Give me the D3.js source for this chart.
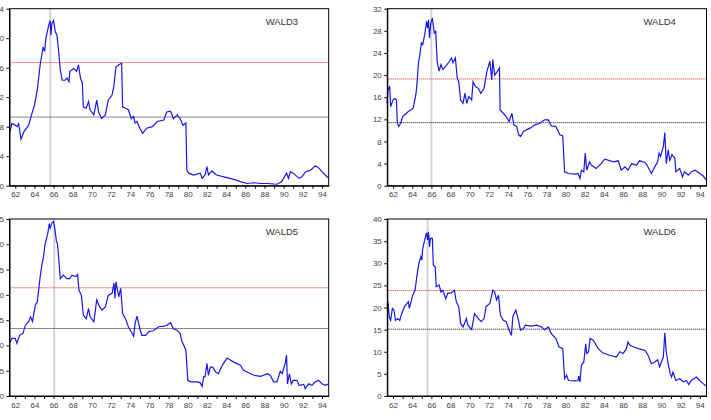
<html>
<script src='https://d3js.org/d3.v7.min.js'></script>
<style>
body {margin:0; background:#fff;}
text {font-family: Arial, 'Liberation Sans', sans-serif;}
</style>
<body onload='init()'>
<svg width=711 height=420></svg>
<script>
// year ticks (labels every 2 years)
var tickYears = d3.range(62, 95);
var labelYears = d3.range(62, 95, 2);

// [year, statistic]
var wald3 = [[61.41,7.1],[61.65,8.45],[62.0,8.2],[62.2,8.0],[62.35,8.4],[62.6,6.3],[62.9,7.3],[63.4,8.2],[63.7,9.6],[64.0,10.9],[64.3,13.0],
 [64.6,16.4],[64.9,18.8],[65.06,18.2],[65.2,20.0],[65.5,21.8],[65.65,22.4],[65.72,20.4],[65.83,22.0],[66.0,22.4],[66.17,20.9],[66.35,20.4],
 [66.5,18.6],[66.7,15.7],[66.9,14.3],[67.2,14.3],[67.4,14.6],[67.6,14.1],[67.7,15.5],[68.1,15.9],[68.4,15.5],[68.6,16.4],[68.8,14.6],[69.0,13.9],
 [69.1,10.7],[69.4,10.5],[69.65,11.4],[69.8,10.3],[70.2,9.6],[70.5,11.6],[70.7,10.0],[71.0,9.1],[71.4,9.6],[71.7,11.6],[72.1,12.3],[72.3,13.6],
 [72.5,16.1],[72.8,16.4],[73.1,16.6],[73.2,10.7],[73.5,10.5],[73.8,10.3],[74.1,9.1],[74.35,9.4],[74.5,8.5],[74.7,8.7],[75.0,7.8],[75.3,7.1],
 [75.7,7.8],[76.3,8.0],[76.8,8.7],[77.5,8.9],[77.8,10.0],[78.2,10.1],[78.5,9.1],[78.9,9.6],[79.2,9.1],[79.5,8.2],[79.8,8.5],[79.9,2.1],
 [80.1,1.7],[80.6,1.45],[81.3,1.7],[81.5,1.0],[81.8,1.45],[82.0,2.6],[82.15,1.45],[82.5,2.0],[83.0,1.45],[84.1,1.1],[84.8,0.86],[85.5,0.55],
 [86.2,0.3],[86.9,0.4],[87.6,0.3],[88.3,0.3],[89.3,0.2],[89.8,0.55],[90.3,1.7],[90.5,1.0],[90.7,1.9],[91.0,1.7],[91.6,1.0],[91.9,1.2],
 [92.3,1.9],[92.8,2.1],[93.3,2.7],[93.7,2.35],[94.0,1.9],[94.35,1.45],[94.7,1.0]];

var wald4 = [[61.37,14.9],[61.47,17.3],[61.65,18.0],[61.75,14.3],[62.0,15.5],[62.17,15.8],[62.35,15.5],[62.45,11.3],[62.6,10.7],[62.8,11.3],
 [63.0,12.5],[63.6,13.4],[64.1,14.0],[64.3,15.8],[64.4,16.7],[64.5,18.5],[64.65,22.2],[64.8,23.7],[64.95,25.8],[65.1,25.5],[65.3,27.3],
 [65.5,29.7],[65.6,28.5],[65.7,30.0],[65.8,26.7],[65.93,29.3],[66.1,30.3],[66.3,27.6],[66.45,27.9],[66.6,22.5],[66.8,20.7],[67.0,21.9],
 [67.2,21.0],[67.5,21.6],[67.9,22.5],[68.1,23.1],[68.25,22.2],[68.5,23.1],[68.7,19.4],[68.85,18.8],[69.05,15.5],[69.3,14.9],[69.5,16.7],
 [69.7,14.9],[69.9,16.1],[70.2,15.5],[70.35,18.8],[70.6,17.9],[70.9,17.6],[71.15,16.7],[71.5,17.6],[71.6,18.8],[71.8,20.7],[72.1,22.5],
 [72.3,19.1],[72.4,22.8],[72.6,20.0],[72.9,20.7],[73.1,21.3],[73.17,13.7],[73.5,13.1],[73.8,12.5],[74.1,11.6],[74.4,13.1],[74.6,11.0],
 [74.9,10.7],[75.1,9.2],[75.3,8.9],[75.6,9.8],[75.9,10.1],[76.3,10.4],[76.8,11.0],[77.3,11.3],[77.8,11.9],[78.2,11.9],[78.5,10.8],
 [79.0,10.7],[79.4,9.2],[79.7,9.0],[79.9,2.5],[80.3,2.2],[81.0,2.1],[81.3,2.2],[81.5,1.3],[81.65,2.8],[81.9,2.5],[82.05,5.9],[82.2,2.8],
 [82.5,4.3],[82.7,3.7],[83.2,3.1],[83.7,4.0],[84.1,4.8],[85.0,4.3],[85.5,4.5],[85.8,2.8],[86.2,3.4],[86.5,2.8],[86.9,4.0],[87.4,3.7],
 [87.7,4.5],[88.3,4.2],[88.5,3.7],[88.95,2.2],[89.3,3.4],[89.6,4.3],[89.75,5.9],[89.9,5.3],[90.2,7.1],[90.35,9.6],[90.5,4.0],[90.7,6.5],
 [90.87,4.6],[91.1,5.6],[91.4,5.0],[91.5,2.5],[91.9,3.1],[92.2,1.6],[92.4,2.5],[92.8,1.9],[93.1,2.5],[93.5,2.8],[94.0,2.2],[94.35,1.75],[94.7,1.0]];

var wald5 = [[61.4,10.5],[61.65,11.4],[62.0,11.4],[62.17,10.4],[62.45,12.0],[62.8,12.35],[63.05,14.0],[63.4,14.7],[63.6,15.65],[63.8,14.7],
 [64.1,18.0],[64.3,18.6],[64.6,23.6],[64.8,26.2],[64.95,27.5],[65.1,29.9],[65.4,32.2],[65.55,34.1],[65.65,33.2],[65.83,34.3],[66.0,34.5],
 [66.15,32.8],[66.3,30.5],[66.4,30.2],[66.55,26.9],[66.7,23.2],[67.0,23.9],[67.4,23.2],[67.7,23.2],[67.9,23.9],[68.3,23.6],[68.5,24.0],
 [68.65,20.9],[68.9,19.9],[69.1,16.0],[69.4,15.3],[69.65,17.3],[69.8,15.65],[70.2,14.7],[70.5,19.0],[70.8,17.6],[71.05,17.0],[71.4,17.6],
 [71.7,19.9],[72.1,20.3],[72.3,22.3],[72.4,19.3],[72.5,22.6],[72.8,19.6],[73.0,21.3],[73.2,16.3],[73.5,15.3],[73.8,13.7],[74.1,12.7],
 [74.35,11.8],[74.5,14.3],[74.7,15.8],[75.0,13.3],[75.2,12.0],[75.6,12.0],[75.9,12.7],[76.4,12.9],[76.96,13.7],[77.5,13.8],[77.8,14.0],
 [78.2,14.5],[78.5,13.3],[78.9,13.0],[79.2,12.35],[79.4,10.7],[79.6,10.0],[79.8,9.0],[80.0,3.1],[80.3,2.8],[81.0,2.8],[81.3,2.6],[81.5,1.9],
 [81.65,3.8],[81.8,3.8],[82.0,6.4],[82.15,4.1],[82.35,5.7],[82.6,5.7],[82.9,4.75],[83.2,4.4],[83.6,6.1],[84.1,7.5],[84.8,6.7],[85.5,6.1],
 [85.8,5.1],[86.35,4.6],[86.9,4.1],[87.6,3.9],[88.3,4.4],[88.6,4.1],[88.95,2.8],[89.3,2.8],[89.65,4.9],[89.85,4.4],[90.2,6.7],[90.3,8.1],
 [90.4,2.4],[90.6,4.4],[90.8,2.4],[91.0,3.1],[91.4,3.1],[91.6,2.1],[92.1,2.3],[92.25,1.45],[92.6,2.4],[92.95,2.1],[93.3,2.8],[93.65,3.1],
 [94.0,2.4],[94.35,2.1],[94.7,2.4]];

var wald6 = [[61.37,20.5],[61.47,21.3],[61.6,17.9],[61.75,17.1],[61.93,19.8],[62.1,19.4],[62.25,17.1],[62.5,17.5],[62.7,17.1],[62.9,18.6],
 [63.2,20.2],[63.6,21.3],[63.7,19.8],[64.0,22.4],[64.2,23.5],[64.3,23.9],[64.5,27.3],[64.7,30.0],[64.9,31.5],[65.0,30.7],[65.1,33.4],
 [65.3,35.2],[65.4,36.2],[65.5,36.9],[65.6,35.2],[65.7,37.1],[65.8,33.7],[65.9,35.6],[66.1,35.6],[66.2,29.6],[66.4,29.2],[66.5,24.7],
 [66.8,25.1],[67.0,23.5],[67.2,23.9],[67.5,22.0],[67.7,23.2],[68.1,23.3],[68.4,23.9],[68.6,21.3],[68.85,20.2],[69.05,16.4],[69.3,15.6],
 [69.65,17.5],[69.8,16.0],[70.2,15.0],[70.5,18.6],[70.9,17.5],[71.2,16.8],[71.5,17.5],[71.7,20.2],[72.1,20.9],[72.3,22.8],[72.4,23.9],
 [72.6,23.5],[72.8,21.7],[73.0,22.8],[73.2,18.3],[73.5,17.1],[73.8,16.8],[74.1,14.9],[74.35,13.7],[74.5,18.0],[74.8,19.4],[75.0,17.9],
 [75.3,14.9],[75.6,15.2],[75.8,16.0],[76.4,15.8],[77.0,16.0],[77.5,15.6],[77.8,15.0],[78.2,15.6],[78.5,14.1],[79.0,13.0],[79.3,11.1],
 [79.7,10.7],[79.9,3.9],[80.1,4.7],[80.3,3.5],[80.95,3.4],[81.3,3.5],[81.37,4.5],[81.5,3.2],[81.65,6.9],[81.9,7.7],[82.1,11.8],[82.2,9.6],
 [82.4,10.0],[82.55,13.0],[82.9,12.6],[83.4,10.7],[83.9,9.7],[84.6,9.2],[85.3,8.8],[85.65,10.0],[86.0,9.6],[86.35,10.7],[86.5,12.2],
 [86.7,11.5],[87.0,11.2],[87.6,10.7],[88.3,10.3],[88.6,9.2],[88.95,7.3],[89.3,7.7],[89.6,8.2],[89.8,6.6],[90.2,8.8],[90.35,14.3],[90.5,10.0],
 [90.7,7.3],[90.9,5.1],[91.05,4.3],[91.2,5.4],[91.5,3.5],[91.9,3.9],[92.3,3.2],[92.6,3.5],[92.85,2.6],[93.1,3.5],[93.65,4.3],[94.0,3.5],
 [94.35,2.8],[94.7,2.2]];

var names = ["WALD3", "WALD4", "WALD5", "WALD6"];
var series = [wald3, wald4, wald5, wald6];
var yMaxes = [24, 32, 35, 40];
var ySteps = [4, 4, 5, 5];
var upperCrit = [16.7, 19.3, 21.4, 23.85];
var lowerCrit = [9.3, 11.4, 13.35, 15.1];
var peakDates = [65.65, 66.0, 66.07, 65.6];

function init() {
  var svg = d3.select("svg");
  var lefts = [9.5, 387.3], tops = [8.7, 219];
  var width = 319.2, height = 177;

  series.forEach(function(data, i) {
    var g = svg.append("g")
      .attr("transform", "translate(" + lefts[i % 2] + "," + tops[Math.floor(i / 2)] + ")");

    var x = d3.scaleLinear().domain([61.4, 94.7]).range([0, width]);
    var y = d3.scaleLinear().domain([0, yMaxes[i]]).range([height, 0]);

    g.append("line")
      .attr("x1", x(peakDates[i])).attr("x2", x(peakDates[i]))
      .attr("y1", 0).attr("y2", height)
      .attr("stroke", "#d4d4d4").attr("stroke-width", 2);

    g.append("line")
      .attr("x1", 0).attr("x2", width)
      .attr("y1", y(upperCrit[i])).attr("y2", y(upperCrit[i]))
      .attr("stroke", "#ee2222").attr("stroke-dasharray", "1,1");
    g.append("line")
      .attr("x1", 0).attr("x2", width)
      .attr("y1", y(lowerCrit[i])).attr("y2", y(lowerCrit[i]))
      .attr("stroke", "#111").attr("stroke-dasharray", "1,1");

    var line = d3.line()
      .x(function(d) { return x(d[0]); })
      .y(function(d) { return y(d[1]); });
    g.append("path").datum(data)
      .attr("d", line)
      .attr("fill", "none")
      .attr("stroke", "#1818e8")
      .attr("stroke-width", 1.2);

    g.append("rect")
      .attr("width", width).attr("height", height)
      .attr("fill", "none").attr("stroke", "#000");

    var xAxis = d3.axisBottom(x).tickValues(tickYears).tickSize(3).tickSizeOuter(0).tickPadding(3)
      .tickFormat(function(d) { return labelYears.indexOf(d) >= 0 ? d : ""; });
    var yAxis = d3.axisLeft(y).tickValues(d3.range(0, yMaxes[i] + 0.1, ySteps[i]))
      .tickSize(3).tickSizeOuter(0).tickPadding(2.5);

    var gx = g.append("g").attr("transform", "translate(0," + height + ")").call(xAxis);
    var gy = g.append("g").call(yAxis);
    [gx, gy].forEach(function(a) {
      a.select(".domain").attr("stroke", "#000");
      a.selectAll("line").attr("stroke", "#000");
      a.selectAll("text").attr("fill", "#444").style("font-size", "8px")
        .style("font-family", "Arial, 'Liberation Sans', sans-serif");
    });

    g.append("text")
      .attr("x", width - 63).attr("y", 16)
      .attr("fill", "#333")
      .style("font-size", "9.5px")
      .text(names[i]);
  });
}
</script>
</body>
</html>
